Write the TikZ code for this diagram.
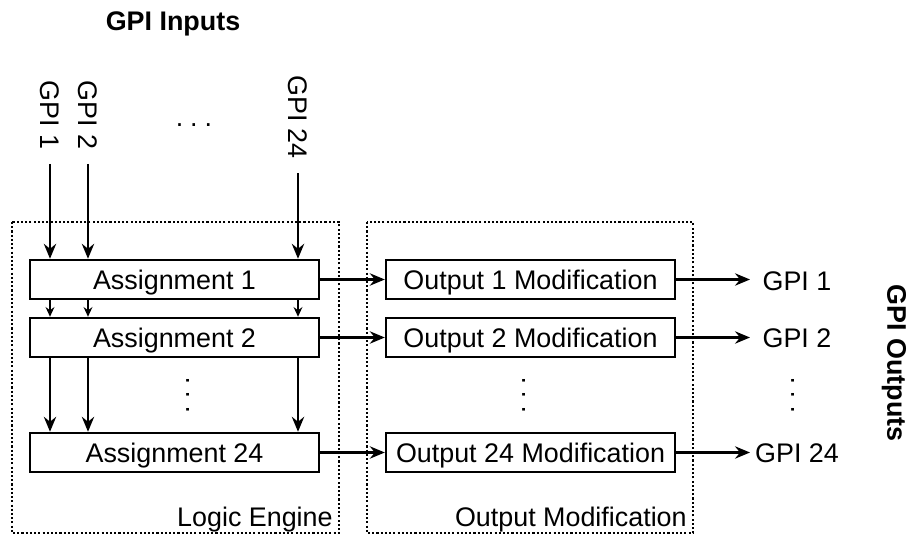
\documentclass[tikz,border=0pt]{standalone}
\usepackage{fontspec}
\setmainfont{Liberation Sans}
\usetikzlibrary{arrows.meta,positioning}
\newcommand{\dts}{.\hspace{0.26em}.\hspace{0.26em}.}
\tikzset{
  blk/.style={draw,line width=1.4pt,minimum width=5.78cm,minimum height=0.78cm,inner sep=0pt,
    text height=11pt,text depth=0pt,font=\fontsize{15.3}{18}\selectfont},
  lbl/.style={inner sep=0pt,text height=11pt,text depth=0pt,font=\fontsize{15.3}{18}\selectfont},
  hdr/.style={inner sep=0pt,text height=11pt,text depth=0pt,font=\fontsize{15.3}{18}\selectfont\bfseries},
  dotsnode/.style={inner sep=0pt,text height=1.5pt,text depth=0pt,font=\fontsize{15.3}{18}\selectfont},
  arr/.style={line width=1.3pt,-{Stealth[length=8.5pt,width=7pt,inset=2.8pt]}},
  sarr/.style={line width=1.1pt,-{Stealth[length=5.5pt,width=5pt,inset=1.8pt]}},
  frame/.style={line width=0.6pt,dash pattern=on 1.2pt off 1.2pt}
}
\begin{document}
\begin{tikzpicture}[x=0.02cm,y=-0.02cm]
  \useasboundingbox (0,0) rectangle (911,536);
  \draw[frame](12,222)rectangle(339,533); %logic engine
  \draw[frame](367,222)rectangle(693,533); %output modification
  \node[hdr] (inhdr) at (173,21){GPI Inputs};
  \node[hdr,rotate=-90] (outhdr) at (897,363){GPI Outputs};
  %inputs
  \node[lbl,rotate=-90] (in1) at (50,115){GPI 1};
  \node[lbl,rotate=-90] (in2) at (88,115){GPI 2};
  \node[lbl,rotate=-90] (in24) at (298,117){GPI 24};
  \node[dotsnode] (hdots) at (194,125){\dts};
  %assignments
  \node[blk] (a1) at (174.5,279.5){Assignment 1};
  \node[blk] (a2) at (174.5,337.5){Assignment 2};
  \node[blk] (a24) at (174.5,452.5){Assignment 24};
  \node[dotsnode,rotate=90] (vdots1) at (188,395){\dts};
  %modifications
  \node[blk] (m1) at (530.5,279.5){Output 1 Modification};
  \node[blk] (m2) at (530.5,337.5){Output 2 Modification};
  \node[blk] (m24) at (530.5,452.5){Output 24 Modification};
  \node[dotsnode,rotate=90] (vdots2) at (524,395){\dts};
  %outputs
  \coordinate (oend) at (750,0);
  \node[lbl] (g1) at (797,281){GPI 1};
  \node[lbl] (g2) at (797,338){GPI 2};
  \node[lbl] (g24) at (797,453){GPI 24};
  \node[dotsnode,rotate=90] (vdots3) at (793,395){\dts};
  \node[lbl] (le) [anchor=east] at (333,517){Logic Engine};
  \node[lbl] (om) [anchor=east] at (687,517){Output Modification};
  %connectors
  \foreach \i in {in1,in2,in24}{
    \draw[arr,shorten <=8pt] (\i) -- (\i |- a1.north);
    \draw[sarr] (\i |- a1.south) -- (\i |- a2.north);
    \draw[arr] (\i |- a2.south) -- (\i |- a24.north);
  }
  \foreach \i in {1,2,24}{
    \draw[arr] (a\i) -- (m\i);
    \draw[arr] (m\i) -- (m\i -| oend);
  }
\end{tikzpicture}
\end{document}
